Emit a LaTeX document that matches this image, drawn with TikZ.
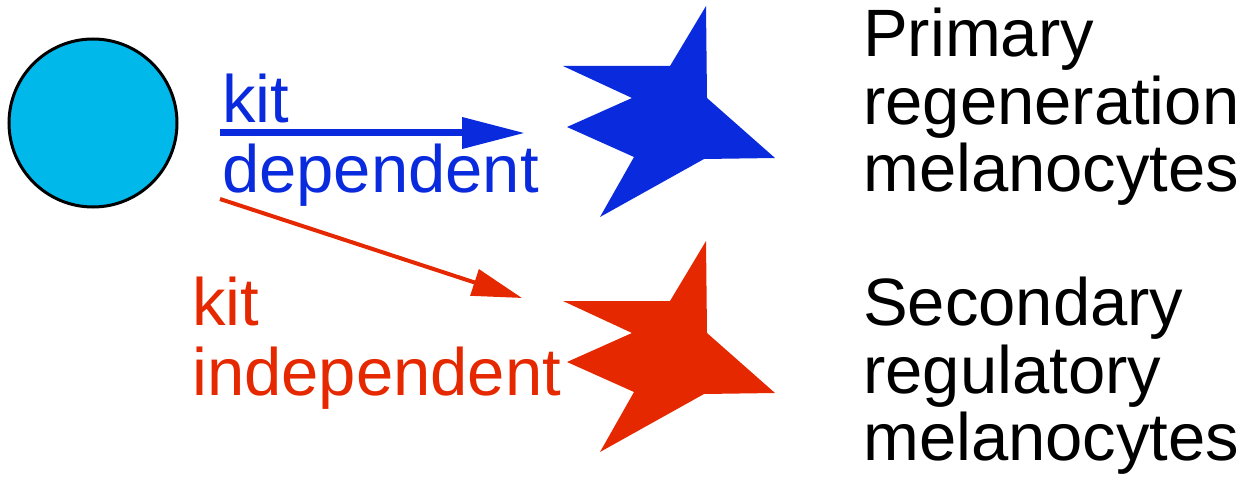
\documentclass[tikz,border=0pt]{standalone}
\usepackage{fontspec}
\setmainfont{Liberation Sans}
\usetikzlibrary{arrows.meta}
\definecolor{cblue}{RGB}{10,42,222}
\definecolor{cred}{RGB}{229,40,0}
\definecolor{ccyan}{RGB}{0,185,234}
\tikzset{
  lbl/.style={anchor=base west,inner sep=0pt,font=\fontsize{67}{68}\selectfont},
}
\begin{document}
\begin{tikzpicture}[x=1pt,y=-1pt]
\useasboundingbox (0,0) rectangle (1255,481);
% cell
\node[circle,draw=black,line width=3pt,fill=ccyan,minimum size=168pt,inner sep=0pt] (cell) at (93,123) {};
% stars
\fill[cblue] (706,6) -- (670,66) -- (563,66) -- (632,98) -- (567,127) -- (634,157) -- (600,217) -- (704,159) -- (775,158) -- (707,98) -- cycle;
\begin{scope}[yshift=-235pt]
\fill[cred] (706,6) -- (670,66) -- (563,66) -- (632,98) -- (567,127) -- (634,157) -- (600,217) -- (704,159) -- (775,158) -- (707,98) -- cycle;
\end{scope}
% arrows
\coordinate (bs) at (220,133);
\coordinate (be) at (525,133);
\coordinate (rs) at (220,199);
\coordinate (re) at (522,298);
\draw[cblue,line width=7pt,-{Triangle[length=63pt,width=30pt]}] (bs) -- (be);
\draw[cred,line width=4pt,-{Triangle[length=50pt,width=27pt]}] (rs) -- (re);
% labels
\node[lbl,text=cblue] (kd1) at (222,123) {kit};
\node[lbl,text=cblue] (kd2) at (222,193) {dependent};
\node[lbl,text=cred] (ki1) at (192,325) {kit};
\node[lbl,text=cred] (ki2) at (192,395) {independent};
\node[lbl] (p1) at (863,57) {Primary};
\node[lbl] (p2) at (863,125) {regeneration};
\node[lbl] (p3) at (863,192) {melanocytes};
\node[lbl] (s1) at (863,325) {Secondary};
\node[lbl] (s2) at (863,393) {regulatory};
\node[lbl] (s3) at (863,460) {melanocytes};
\end{tikzpicture}
\end{document}
